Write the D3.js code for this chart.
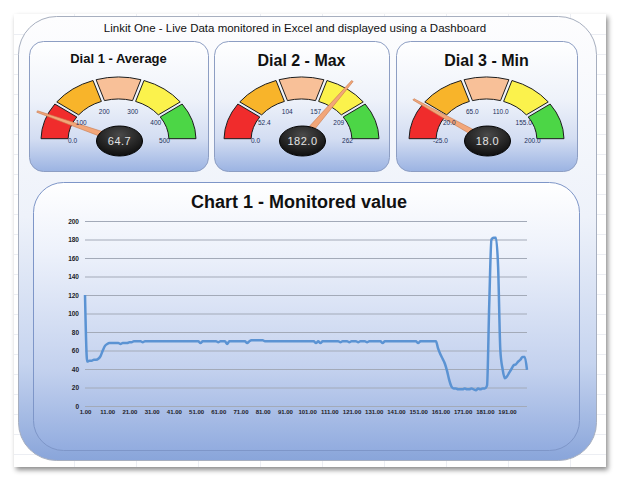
<!DOCTYPE html>
<html lang="en">
<head>
  <meta charset="UTF-8">
  <title>Linkit One - Dashboard</title>
  <script src="https://cdn.jsdelivr.net/npm/d3@7.9.0/dist/d3.min.js"></script>
  <style>
    html, body { margin: 0; padding: 0; background: #fff; }
    svg { display: block; font-family: "Liberation Sans", Arial, sans-serif; }
  </style>
</head>
<body>
  <svg id="dash" width="620" height="478"></svg>
  <script>
    // --- data ---
    const dialTitles = ["Dial 1 - Average", "Dial 2 - Max", "Dial 3 - Min"];
    const dialValues = [64.7, 182.0, 18.0];
    const dialMins = [0, 0, -25];
    const dialMaxs = [500, 262, 200];
    const dialTickLabels = [
      ["0.0", "100", "200", "300", "400", "500"],
      ["0.0", "52.4", "104", "157", "209", "262"],
      ["-25.0", "20.0", "65.0", "110.0", "155.0", "200.0"]
    ];

    // monitored value, samples 1..200
    const readings = [
      120, 48, 49, 49, 50, 50, 51, 54, 60, 65,
      67, 68, 68, 68, 68, 68, 67, 68, 68, 68,
      69, 69, 70, 70, 70, 70, 69, 70, 70, 70,
      70, 70, 70, 70, 70, 70, 70, 70, 70, 70,
      70, 70, 70, 70, 70, 70, 70, 70, 70, 70,
      70, 70, 68, 70, 70, 70, 70, 70, 70, 70,
      69, 70, 70, 70, 67, 70, 70, 70, 70, 70,
      70, 70, 70, 68, 70, 71, 71, 71, 71, 71,
      71, 70, 70, 70, 70, 70, 70, 70, 70, 70,
      70, 70, 70, 70, 70, 70, 70, 70, 70, 70,
      70, 70, 70, 70, 68, 70, 68, 70, 70, 70,
      70, 70, 70, 70, 70, 69, 70, 70, 70, 69,
      70, 70, 70, 69, 70, 70, 70, 69, 70, 70,
      70, 70, 70, 70, 68, 70, 70, 70, 70, 70,
      70, 70, 70, 70, 70, 70, 70, 70, 70, 70,
      68, 70, 70, 70, 70, 70, 70, 70, 70, 62,
      56, 51, 46, 38, 28, 21, 19, 19, 18, 18,
      18, 19, 18, 18, 19, 18, 17, 19, 18, 19,
      19, 22, 110, 180, 182, 182, 150, 60, 40, 30,
      32, 36, 40, 44, 45, 48, 50, 53, 53, 39
    ];
    const yTicks = [0, 20, 40, 60, 80, 100, 120, 140, 160, 180, 200];
    const xTickLabels = ["1.00", "11.00", "21.00", "31.00", "41.00", "51.00", "61.00", "71.00", "81.00", "91.00",
      "101.00", "111.00", "121.00", "131.00", "141.00", "151.00", "161.00", "171.00", "181.00", "191.00"];

    const bandColors = ["#f02c2c", "#f8b42a", "#f8c098", "#fbf24c", "#4cd646"];

    const svg = d3.select("#dash");
    const defs = svg.append("defs");

    // gradients
    const addGradient = (id, stops) => {
      const g = defs.append("linearGradient").attr("id", id)
        .attr("x1", 0).attr("y1", 0).attr("x2", 0).attr("y2", 1);
      stops.forEach(s => g.append("stop").attr("offset", s[0]).attr("stop-color", s[1]));
    };
    addGradient("outerFill", [[0, "#fdfdfe"], [0.45, "#eef2fa"], [0.78, "#c6d4ef"], [1, "#89a5da"]]);
    addGradient("dialFill", [[0, "#ffffff"], [0.45, "#eef2fa"], [0.75, "#d3ddf2"], [1, "#9bb3e2"]]);
    addGradient("chartFill", [[0, "#ffffff"], [0.25, "#eef2fb"], [0.7, "#c3d1ee"], [1, "#92acdf"]]);

    const knobGrad = defs.append("radialGradient").attr("id", "knobFill")
      .attr("cx", "50%").attr("cy", "30%").attr("r", "70%");
    knobGrad.append("stop").attr("offset", 0).attr("stop-color", "#4a4a4a");
    knobGrad.append("stop").attr("offset", 1).attr("stop-color", "#0e0e0e");

    const shadow = defs.append("filter").attr("id", "shadow")
      .attr("x", "-5%").attr("y", "-5%").attr("width", "110%").attr("height", "112%");
    shadow.append("feDropShadow").attr("dx", 2).attr("dy", 3)
      .attr("stdDeviation", 2.5).attr("flood-color", "#000").attr("flood-opacity", 0.45);

    // sheet with faint excel cells
    svg.append("rect").attr("x", 14).attr("y", 14).attr("width", 592).attr("height", 453)
      .attr("fill", "#fff").attr("filter", "url(#shadow)");
    const cells = svg.append("g").attr("stroke", "#eceef3").attr("stroke-width", 1);
    d3.range(14 + 20, 467, 20).forEach(y => cells.append("line")
      .attr("x1", 14).attr("x2", 606).attr("y1", y + 0.5).attr("y2", y + 0.5));
    d3.range(14 + 60, 606, 62).forEach(x => cells.append("line")
      .attr("x1", x + 0.5).attr("x2", x + 0.5).attr("y1", 14).attr("y2", 467));

    // outer dashboard panel
    svg.append("rect").attr("x", 18.5).attr("y", 16.5).attr("width", 578).attr("height", 444)
      .attr("rx", 38).attr("fill", "url(#outerFill)").attr("stroke", "#a7afbf");

    svg.append("text").attr("x", 295).attr("y", 32).attr("text-anchor", "middle")
      .attr("font-size", 11.5).attr("fill", "#111")
      .text("Linkit One - Live Data monitored in Excel and displayed using a Dashboard");

    // --- dials ---
    const dialPanels = [[29, 179], [214, 175], [396, 181]];
    const gaugeY = 140;
    const rOuter = 63, rInner = 41, xStretch = 1.23;

    dialTitles.forEach((title, d) => {
      const [px, pw] = dialPanels[d];
      const cx = px + pw / 2;
      const panel = svg.append("g");
      panel.append("rect").attr("x", px + 0.5).attr("y", 41.5).attr("width", pw).attr("height", 130)
        .attr("rx", 14).attr("fill", "url(#dialFill)").attr("stroke", "#8d9ec3");
      panel.append("text").attr("x", cx).attr("y", d === 0 ? 63 : 66)
        .attr("text-anchor", "middle").attr("font-weight", "bold")
        .attr("font-size", d === 0 ? 13 : 16).attr("fill", "#111").text(title);

      const scale = d3.scaleLinear().domain([dialMins[d], dialMaxs[d]]).range([-Math.PI / 2, Math.PI / 2]);
      const bandEdges = d3.range(6).map(k => dialMins[d] + k * (dialMaxs[d] - dialMins[d]) / 5);

      const gauge = panel.append("g")
        .attr("transform", `translate(${cx},${gaugeY}) scale(${xStretch},1)`);
      const arc = d3.arc().innerRadius(rInner).outerRadius(rOuter).padAngle(0.035);
      gauge.selectAll("path.band").data(d3.range(5)).join("path")
        .attr("class", "band")
        .attr("d", k => arc({ startAngle: scale(bandEdges[k]), endAngle: scale(bandEdges[k + 1]) }))
        .attr("fill", k => bandColors[k])
        .attr("stroke", "#1d1d1d").attr("stroke-width", 1)
        .attr("vector-effect", "non-scaling-stroke");

      // tick labels at the band edges
      panel.selectAll("text.tick").data(dialTickLabels[d]).join("text")
        .attr("class", "tick")
        .attr("x", (t, k) => cx + 46 * Math.sin(scale(bandEdges[k])))
        .attr("y", (t, k) => gaugeY - 30 * Math.cos(scale(bandEdges[k])) + 2.5)
        .attr("text-anchor", "middle").attr("font-size", 6.5).attr("fill", "#22305a")
        .text(t => t);

      // needle
      const a = scale(dialValues[d]);
      const tip = [72 * Math.sin(a), -72 * Math.cos(a)];
      const nx = Math.cos(a), ny = Math.sin(a);
      const needle = [
        [nx * 3, ny * 3], [tip[0] + nx * 0.8, tip[1] + ny * 0.8],
        [tip[0] - nx * 0.8, tip[1] - ny * 0.8], [-nx * 3, -ny * 3]
      ];
      gauge.append("path").attr("d", d3.line()(needle) + "Z")
        .attr("fill", "#f2a679").attr("stroke", "#c8784c").attr("stroke-width", 0.6)
        .attr("vector-effect", "non-scaling-stroke");

      // knob with the value
      panel.append("ellipse").attr("cx", cx + 1).attr("cy", gaugeY + 1).attr("rx", 23).attr("ry", 15)
        .attr("fill", "url(#knobFill)").attr("stroke", "#000");
      panel.append("text").attr("x", cx + 1).attr("y", gaugeY + 5)
        .attr("text-anchor", "middle").attr("font-size", 11).attr("fill", "#e4e4e4")
        .attr("letter-spacing", 0.5).text(d3.format(".1f")(dialValues[d]));
    });

    // --- chart ---
    svg.append("rect").attr("x", 33.5).attr("y", 182.5).attr("width", 546).attr("height", 268)
      .attr("rx", 30).attr("fill", "url(#chartFill)").attr("stroke", "#7e96c8");
    svg.append("text").attr("x", 299).attr("y", 208).attr("text-anchor", "middle")
      .attr("font-weight", "bold").attr("font-size", 18).attr("fill", "#111")
      .text("Chart 1 - Monitored value");

    const x = d3.scaleLinear().domain([1, readings.length]).range([85, 527]);
    const y = d3.scaleLinear().domain([0, 200]).range([406, 221]);

    const yAxis = svg.append("g").attr("transform", "translate(85,0)")
      .call(d3.axisLeft(y).tickValues(yTicks).tickSize(-442).tickPadding(6).tickFormat(d3.format("d")));
    yAxis.select(".domain").remove();
    yAxis.selectAll(".tick line").attr("stroke", "#a3aab8");
    yAxis.selectAll(".tick text").attr("font-size", 6.5).attr("font-weight", "bold")
      .attr("fill", "#1c1c28").attr("font-family", "Liberation Sans, Arial, sans-serif");

    const xAxis = svg.append("g").attr("transform", "translate(0,406)")
      .call(d3.axisBottom(x).tickValues(xTickLabels.map(Number)).tickSize(0).tickPadding(4)
        .tickFormat(v => xTickLabels.find(l => +l === v)));
    xAxis.select(".domain").remove();
    xAxis.selectAll(".tick text").attr("font-size", 6).attr("font-weight", "bold")
      .attr("fill", "#1c1c28").attr("font-family", "Liberation Sans, Arial, sans-serif");

    const line = d3.line()
      .x((v, i) => x(i + 1))
      .y(v => y(v))
      .curve(d3.curveMonotoneX);
    svg.append("path").datum(readings)
      .attr("d", line)
      .attr("fill", "none").attr("stroke", "#5b93d3").attr("stroke-width", 2.5)
      .attr("stroke-linejoin", "round");
  </script>
</body>
</html>
